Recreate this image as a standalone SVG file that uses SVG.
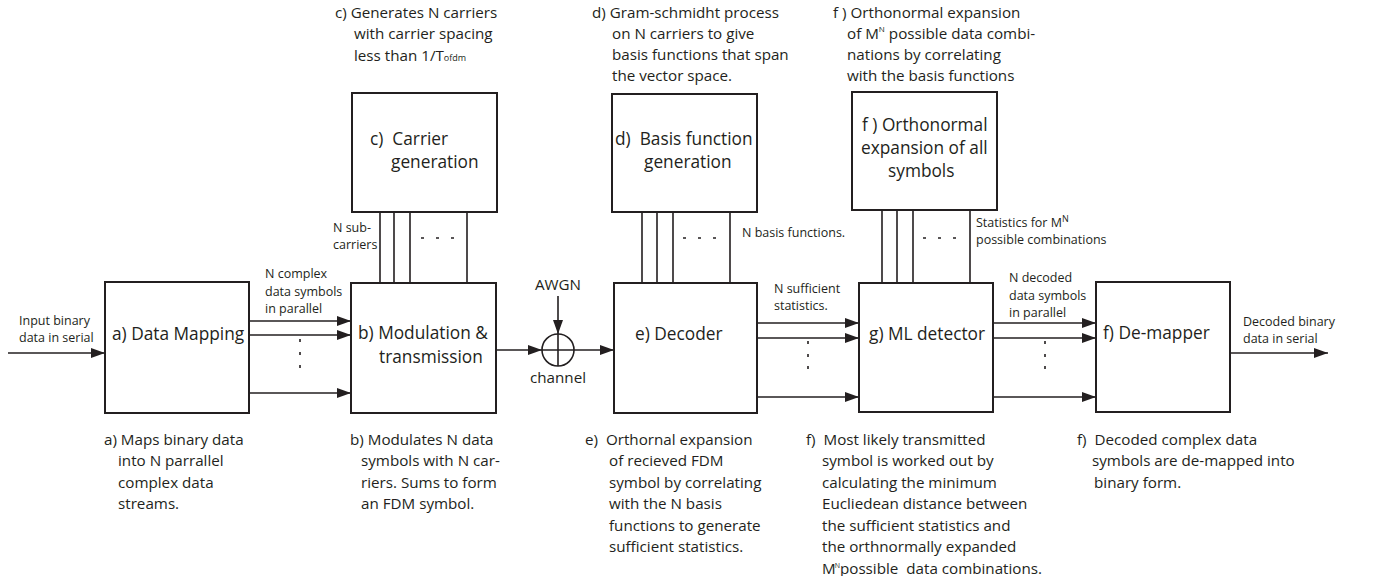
<svg xmlns="http://www.w3.org/2000/svg" width="1374" height="576" viewBox="0 0 1374 576">
<defs>
<marker id="ah" markerUnits="userSpaceOnUse" markerWidth="14" markerHeight="10" refX="14" refY="5" orient="auto">
<path d="M0,0 L14,5 L0,10 z" fill="#231f20"/>
</marker>
<style>
text{font-family:"Open Sans","Noto Sans",sans-serif;fill:#231f20}
.box{fill:#fff;stroke:#231f20;stroke-width:2}
.ln{stroke:#231f20;stroke-width:1.6;fill:none}
.ar{stroke:#231f20;stroke-width:1.6;fill:none;marker-end:url(#ah)}
.dot{stroke:#231f20;stroke-width:1.6}
.lb{font-size:17.3px}
.an{font-size:15.2px}
.sm{font-size:12.5px}
</style>
</defs>
<rect width="1374" height="576" fill="#fff"/>

<g id="connectors">
<path class="ar" d="M8,353 H105"/>
<path class="ar" d="M249,321 H351"/>
<path class="ar" d="M249,335 H351"/>
<path class="ar" d="M249,393 H351"/>
<path class="ln" d="M380,212 V283 M394,212 V283 M410,212 V283 M467,212 V283"/>
<path class="ar" d="M496,350 H542"/>
<path class="ar" d="M558,296 V334"/>
<path class="ar" d="M574,350 H614"/>
<path class="ln" d="M642,212 V283 M657,212 V283 M673,212 V283 M730,212 V283"/>
<path class="ar" d="M757,323 H859"/>
<path class="ar" d="M757,338 H859"/>
<path class="ar" d="M757,397 H859"/>
<path class="ln" d="M882,210 V283 M897,210 V283 M913,210 V283 M970,210 V283"/>
<path class="ar" d="M993,323 H1096"/>
<path class="ar" d="M993,338 H1096"/>
<path class="ar" d="M993,397 H1096"/>
<path class="ar" d="M1230,353 H1328"/>
<g class="dot">
<path d="M300,339 v3 M300,352 v3 M300,365 v3"/>
<path d="M808,341 v3 M808,354 v3 M808,366 v3"/>
<path d="M1045,341 v3 M1045,354 v3 M1045,366 v3"/>
<path d="M421,238 h3 M436,238 h3 M451,238 h3"/>
<path d="M683,238 h3 M698,238 h3 M713,238 h3"/>
<path d="M923,238 h3 M938,238 h3 M953,238 h3"/>
</g>
</g>

<g id="sum">
<circle cx="558" cy="350" r="16" fill="none" stroke="#231f20" stroke-width="1.6"/>
<path class="ln" d="M542,350 H574 M558,334 V366"/>
<text class="an" x="558" y="290" text-anchor="middle">AWGN</text>
<text class="an" x="558" y="383" text-anchor="middle">channel</text>
</g>

<g id="node-a">
<rect class="box" x="105" y="282" width="144" height="131"/>
<text class="lb" x="112" y="340">a) Data Mapping</text>
</g>
<g id="node-b">
<rect class="box" x="351" y="283" width="145" height="130"/>
<text class="lb" x="358" y="339">b) Modulation &amp;</text>
<text class="lb" x="379" y="363">transmission</text>
</g>
<g id="node-c">
<rect class="box" x="352" y="93" width="145" height="119"/>
<text class="lb" x="370" y="145" xml:space="preserve">c)  Carrier</text>
<text class="lb" x="391" y="168">generation</text>
</g>
<g id="node-d">
<rect class="box" x="612" y="94" width="145" height="118"/>
<text class="lb" x="615" y="145" xml:space="preserve">d)  Basis function</text>
<text class="lb" x="644" y="168">generation</text>
</g>
<g id="node-f">
<rect class="box" x="852" y="92" width="145" height="118"/>
<text class="lb" x="862" y="131">f ) Orthonormal</text>
<text class="lb" x="861" y="154">expansion of all</text>
<text class="lb" x="888" y="177">symbols</text>
</g>
<g id="node-e">
<rect class="box" x="614" y="283" width="143" height="130"/>
<text class="lb" x="635" y="340">e) Decoder</text>
</g>
<g id="node-g">
<rect class="box" x="859" y="283" width="134" height="129"/>
<text class="lb" x="869" y="340">g) ML detector</text>
</g>
<g id="node-h">
<rect class="box" x="1096" y="282" width="134" height="130"/>
<text class="lb" x="1103" y="339">f) De-mapper</text>
</g>

<g id="labels">
<text class="sm" x="19" y="325">Input binary</text>
<text class="sm" x="19" y="342">data in serial</text>
<text class="sm" x="265" y="278">N complex</text>
<text class="sm" x="265" y="296">data symbols</text>
<text class="sm" x="265" y="313">in parallel</text>
<text class="sm" x="333" y="232">N sub-</text>
<text class="sm" x="333" y="249">carriers</text>
<text class="sm" x="742" y="237">N basis functions.</text>
<text class="sm" x="976" y="227">Statistics for M<tspan font-size="9" dy="-5">N</tspan></text>
<text class="sm" x="976" y="244">possible combinations</text>
<text class="sm" x="774" y="293">N sufficient</text>
<text class="sm" x="774" y="310">statistics.</text>
<text class="sm" x="1009" y="282">N decoded</text>
<text class="sm" x="1009" y="300">data symbols</text>
<text class="sm" x="1009" y="317">in parallel</text>
<text class="sm" x="1243" y="326">Decoded binary</text>
<text class="sm" x="1243" y="343">data in serial</text>
</g>

<g id="notes-top">
<text class="an" x="335" y="18">c) Generates N carriers</text>
<text class="an" x="354" y="39">with carrier spacing</text>
<text class="an" x="354" y="61">less than 1/T<tspan font-size="9">ofdm</tspan></text>
<text class="an" x="592" y="18">d) Gram-schmidht process</text>
<text class="an" x="612" y="39">on N carriers to give</text>
<text class="an" x="612" y="60">basis functions that span</text>
<text class="an" x="612" y="81">the vector space.</text>
<text class="an" x="833" y="18">f ) Orthonormal expansion</text>
<text class="an" x="847" y="39">of M<tspan font-size="8" dy="-7">N</tspan><tspan dy="7"> possible data combi-</tspan></text>
<text class="an" x="847" y="60">nations by correlating</text>
<text class="an" x="847" y="81">with the basis functions</text>
</g>

<g id="notes-bottom">
<text class="an" x="104" y="445">a) Maps binary data</text>
<text class="an" x="118" y="466">into N parrallel</text>
<text class="an" x="118" y="488">complex data</text>
<text class="an" x="118" y="509">streams.</text>
<text class="an" x="350" y="445">b) Modulates N data</text>
<text class="an" x="361" y="466">symbols with N car-</text>
<text class="an" x="361" y="488">riers. Sums to form</text>
<text class="an" x="361" y="509">an FDM symbol.</text>
<text class="an" x="585" y="445" xml:space="preserve">e)  Orthornal expansion</text>
<text class="an" x="609" y="466">of recieved FDM</text>
<text class="an" x="609" y="488">symbol by correlating</text>
<text class="an" x="609" y="509">with the N basis</text>
<text class="an" x="609" y="531">functions to generate</text>
<text class="an" x="609" y="552">sufficient statistics.</text>
<text class="an" x="806" y="445" xml:space="preserve">f)  Most likely transmitted</text>
<text class="an" x="822" y="466">symbol is worked out by</text>
<text class="an" x="822" y="488">calculating the minimum</text>
<text class="an" x="822" y="509">Eucliedean distance between</text>
<text class="an" x="822" y="531">the sufficient statistics and</text>
<text class="an" x="822" y="552">the orthnormally expanded</text>
<text class="an" x="822" y="574" xml:space="preserve">M<tspan font-size="7" dx="-1" dy="-6">N</tspan><tspan dy="6">possible  data combinations.</tspan></text>
<text class="an" x="1077" y="445" xml:space="preserve">f)  Decoded complex data</text>
<text class="an" x="1092" y="466">symbols are de-mapped into</text>
<text class="an" x="1094" y="488">binary form.</text>
</g>
</svg>
